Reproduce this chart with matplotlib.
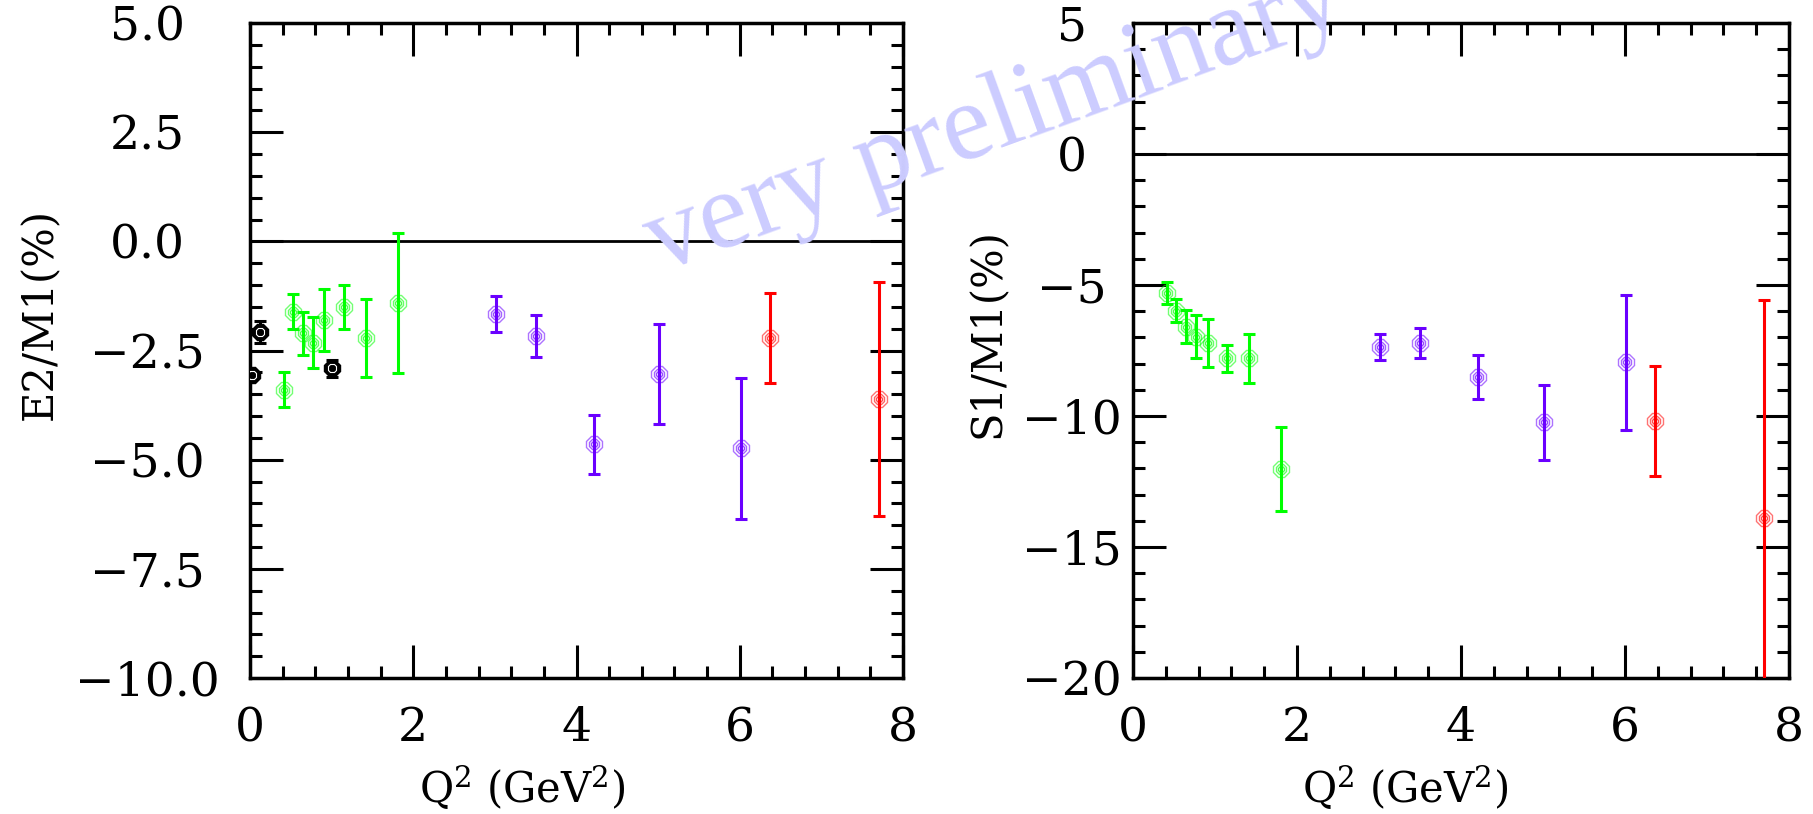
import numpy as np
import matplotlib
matplotlib.use('Agg')
from matplotlib import pyplot as plt
from matplotlib.ticker import MultipleLocator

plt.rcParams['font.family'] = ['DejaVu Serif']
plt.rcParams['mathtext.fontset'] = 'dejavuserif'

# Q^2 values (GeV^2)
green_q = [0.42, 0.53, 0.65, 0.77, 0.91, 1.15, 1.42, 1.81]
purple_q = [3.01, 3.50, 4.21, 5.01, 6.01]
red_q = [6.37, 7.70]
black_q = [0.03, 0.12, 1.00]

# E2/M1 (%)
green_e2 = [-3.40, -1.61, -2.11, -2.32, -1.80, -1.51, -2.21, -1.42]
green_e2_err = [0.40, 0.40, 0.50, 0.59, 0.70, 0.50, 0.90, 1.60]
purple_e2 = [-1.67, -2.17, -4.65, -3.04, -4.74]
purple_e2_err = [0.41, 0.49, 0.67, 1.15, 1.61]
red_e2 = [-2.22, -3.61]
red_e2_err = [1.03, 2.67]
black_e2 = [-3.06, -2.07, -2.91]
black_e2_err = [0.0, 0.25, 0.19]

# S1/M1 (%)
green_s1 = [-5.32, -5.98, -6.59, -6.97, -7.20, -7.80, -7.80, -12.02]
green_s1_err = [0.42, 0.43, 0.62, 0.81, 0.92, 0.52, 0.93, 1.61]
purple_s1 = [-7.38, -7.23, -8.52, -10.24, -7.95]
purple_s1_err = [0.50, 0.57, 0.84, 1.44, 2.58]
red_s1 = [-10.19, -13.90]
red_s1_err = [2.10, 8.33]

e2_ticks = [5.0, 2.5, 0.0, -2.5, -5.0, -7.5, -10.0]
e2_labels = ['5.0', '2.5', '0.0', '\u22122.5', '\u22125.0', '\u22127.5', '\u221210.0']
s1_ticks = [5, 0, -5, -10, -15, -20]
s1_labels = ['5', '0', '\u22125', '\u221210', '\u221215', '\u221220']
q_ticks = [0, 2, 4, 6, 8]

GREEN = '#00ff00'
PURPLE = '#6a00ff'
RED = '#ff0000'


def draw_points(ax, q, v, err, color, filled=False):
    ax.errorbar(q, v, yerr=err, fmt='none', ecolor=color, elinewidth=2.2,
                capsize=4.5, capthick=2.2, zorder=3)
    if filled:
        ax.plot(q, v, ls='none', marker='8', ms=13, mfc=color, mec=color,
                mew=1.0, zorder=4)
        ax.plot(q, v, ls='none', marker='8', ms=7, mfc='none', mec='white',
                mew=0.8, zorder=5)
        return
    for ms, a in [(12, 0.55), (8.5, 0.6), (5, 0.7)]:
        ax.plot(q, v, ls='none', marker='8', ms=ms, mfc='none', mec=color,
                mew=1.0, alpha=a, zorder=4)


def style_axes(ax, yticks, ylabels, ymin, ymax, yminor, ypad):
    ax.set_xlim(0, 8)
    ax.set_ylim(ymin, ymax)
    ax.set_xticks(q_ticks)
    ax.xaxis.set_minor_locator(MultipleLocator(0.4))
    ax.set_yticks(yticks)
    ax.set_yticklabels(ylabels)
    ax.yaxis.set_minor_locator(MultipleLocator(yminor))
    ax.axhline(0, color='black', lw=2.0, zorder=2)
    ax.tick_params(which='both', direction='in', top=True, right=True,
                   width=2.2, color='black')
    ax.tick_params(which='major', length=24)
    ax.tick_params(which='minor', length=8.5)
    ax.tick_params(axis='x', labelsize=34, pad=20)
    ax.tick_params(axis='y', labelsize=34, pad=ypad)
    plt.setp(ax.get_yticklabels(), ha='center')
    for sp in ax.spines.values():
        sp.set_linewidth(2.5)


fig = plt.figure(figsize=(18.13, 8.14), dpi=100)
ax1 = fig.add_axes([250 / 1813, 136 / 814, 653 / 1813, 655 / 814])
ax2 = fig.add_axes([1133 / 1813, 136 / 814, 656 / 1813, 655 / 814])

# left: E2/M1
draw_points(ax1, black_q, black_e2, black_e2_err, 'black', filled=True)
draw_points(ax1, green_q, green_e2, green_e2_err, GREEN)
draw_points(ax1, purple_q, purple_e2, purple_e2_err, PURPLE)
draw_points(ax1, red_q, red_e2, red_e2_err, RED)
style_axes(ax1, e2_ticks, e2_labels, -10, 5, 0.5, 74)
ax1.set_ylabel('E2/M1(%)', fontsize=30)
ax1.yaxis.set_label_coords(-0.289, 0.556)
ax1.set_xlabel('Q$^2$ (GeV$^2$)', fontsize=30)
ax1.xaxis.set_label_coords(0.4165, -0.13)

# right: S1/M1
draw_points(ax2, green_q, green_s1, green_s1_err, GREEN)
draw_points(ax2, purple_q, purple_s1, purple_s1_err, PURPLE)
draw_points(ax2, red_q, red_s1, red_s1_err, RED)
style_axes(ax2, s1_ticks, s1_labels, -20, 5, 1, 44)
ax2.set_ylabel('S1/M1(%)', fontsize=30)
ax2.yaxis.set_label_coords(-0.19, 0.527)
ax2.set_xlabel('Q$^2$ (GeV$^2$)', fontsize=30)
ax2.xaxis.set_label_coords(0.415, -0.13)

# watermark (runs off the top edge, as in the original)
fig.text(659 / 1813, (814 - 272) / 814, 'very preliminary', family='Liberation Serif',
         fontsize=79, color='#ccccff', rotation=20, rotation_mode='anchor',
         ha='left', va='baseline', zorder=10)

fig.savefig('out.png', dpi=100)
